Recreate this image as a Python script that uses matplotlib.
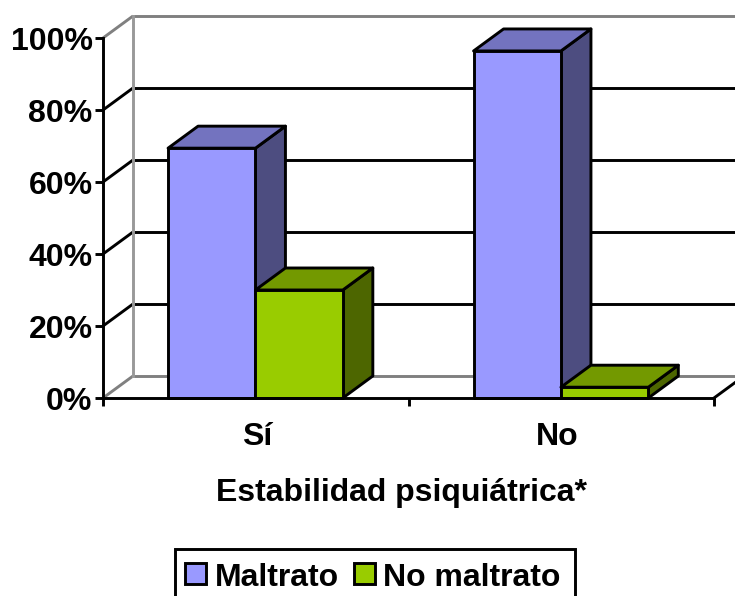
import matplotlib
matplotlib.use('Agg')
import matplotlib.pyplot as plt
from matplotlib.patches import Polygon, Rectangle

plt.rcParams['font.family'] = ['Liberation Sans', 'DejaVu Sans']
plt.rcParams['font.weight'] = 'bold'

categories = ['Sí', 'No']
maltrato = [69.4, 96.4]
no_maltrato = [30, 3]
ticks = [0, 20, 40, 60, 80, 100]
tick_labels = ['0%', '20%', '40%', '60%', '80%', '100%']

W, H = 735, 596
fig = plt.figure(figsize=(W / 100, H / 100), dpi=100)
ax = fig.add_axes([103 / W, 1 - 398 / H, (714 - 103) / W, (398 - 38) / H])
ax.set_xlim(0, 2)
ax.set_ylim(0, 100)

# oblique depth of the fake 3d box, in data units
dx = 30 / 305.5
dy = 22 / 3.6
bar_w = 0.286
gap = 0.213
lw = 2.1
fs = 23

# walls
for t in ticks:
    col = '#808080' if t in (0, 100) else 'black'
    ax.plot([0, dx], [t, t + dy], color=col, lw=lw, clip_on=False, zorder=1, solid_capstyle='butt')
    ax.plot([dx, 2 + dx], [t + dy, t + dy], color=col, lw=lw, clip_on=False, zorder=1, solid_capstyle='butt')
ax.plot([dx, dx], [dy, 100 + dy], color='#999999', lw=lw, clip_on=False, zorder=1)
ax.plot([2, 2 + dx], [0, dy], color='black', lw=lw, clip_on=False, zorder=1)


def bar3d(x, v, front, top, side):
    faces = [
        ([(x + bar_w, 0), (x + bar_w + dx, dy), (x + bar_w + dx, v + dy), (x + bar_w, v)], side),
        ([(x, v), (x + dx, v + dy), (x + bar_w + dx, v + dy), (x + bar_w, v)], top),
        ([(x, 0), (x + bar_w, 0), (x + bar_w, v), (x, v)], front),
    ]
    for pts, c in faces:
        ax.add_patch(Polygon(pts, closed=True, facecolor=c, edgecolor='black', lw=lw,
                             joinstyle='round', clip_on=False, zorder=3))


for i in range(len(categories)):
    bar3d(i + gap, maltrato[i], '#9999FF', '#7373BF', '#4D4D80')
    bar3d(i + gap + bar_w, no_maltrato[i], '#99CC00', '#739900', '#4D6600')

ax.set_xticks([0, 1, 2])
ax.set_xticklabels([])
ax.set_yticks(ticks)
ax.set_yticklabels(tick_labels, fontsize=fs, fontweight='bold')
ax.tick_params(axis='both', length=6, width=lw, color='black', pad=1.5)
for s in ['top', 'right']:
    ax.spines[s].set_visible(False)
for s in ['left', 'bottom']:
    ax.spines[s].set_linewidth(lw)
    ax.spines[s].set_zorder(4)
ax.patch.set_alpha(0)

for c, px in zip(categories, [257, 557]):
    fig.text(px / W, 1 - 437 / H, c, fontsize=fs, fontweight='bold', ha='center', va='center')
fig.text(401 / W, 1 - 493 / H, 'Estabilidad psiquiátrica*', fontsize=fs, fontweight='bold', ha='center', va='center')

# legend box runs off the bottom of the picture
fig.add_artist(Rectangle((175 / W, -10 / H), 400 / W, (47 + 10) / H, transform=fig.transFigure,
                         facecolor='white', edgecolor='black', lw=lw))
for px, c, label, tx in [(185, '#9999FF', 'Maltrato', 215), (354, '#99CC00', 'No maltrato', 383)]:
    fig.add_artist(Rectangle((px / W, 1 - 584 / H), 21 / W, 21 / H, transform=fig.transFigure,
                             facecolor=c, edgecolor='black', lw=lw))
    fig.text(tx / W, 1 - 578 / H, label, fontsize=fs, fontweight='bold', ha='left', va='center')

fig.savefig('out.png', dpi=100)
